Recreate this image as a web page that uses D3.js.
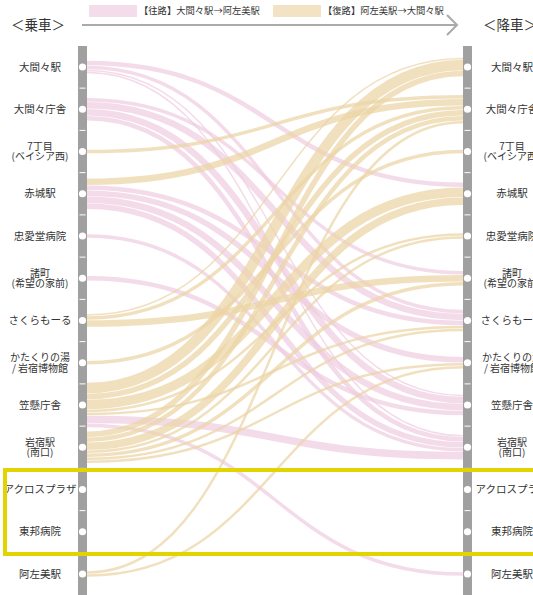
<!DOCTYPE html>
<html>
<head>
<meta charset="utf-8">
<script src="https://cdn.jsdelivr.net/npm/d3@7"></script>
<style>
  body { margin: 0; background: #fff; }
  svg { display: block; font-family: "Noto Sans CJK JP", "Noto Sans", sans-serif; }
</style>
</head>
<body>
<svg id="chart" width="533" height="595"></svg>
<script>
// stations top to bottom
const stations = [
  "大間々駅", "大間々庁舎", "7丁目\n(ベイシア西)", "赤城駅", "忠愛堂病院",
  "諸町\n(希望の家前)", "さくらもーる", "かたくりの湯\n/ 岩宿博物館", "笠懸庁舎",
  "岩宿駅\n(南口)", "アクロスプラザ", "東邦病院", "阿左美駅"
];

// [boarding station, alighting station, riders]
const outboundLinks = [
  [0, 3, 5], [0, 6, 4], [0, 8, 2], [0, 9, 2],
  [1, 5, 4], [1, 6, 7], [1, 8, 7], [1, 9, 5],
  [3, 6, 5], [3, 7, 6], [3, 8, 7], [3, 9, 6],
  [4, 9, 4],
  [5, 8, 5],
  [8, 9, 8], [8, 12, 4]
];

const returnLinks = [
  [2, 1, 4],
  [3, 1, 7],
  [6, 0, 2], [6, 1, 4], [6, 5, 7],
  [7, 2, 4],
  [8, 0, 11], [8, 1, 6], [8, 3, 10], [8, 4, 3], [8, 6, 3],
  [9, 0, 6], [9, 1, 5], [9, 3, 8], [9, 4, 3], [9, 5, 4], [9, 6, 3], [9, 7, 3],
  [12, 1, 3], [12, 7, 3]
];

const legendLabels = ["【往路】大間々駅→阿左美駅", "【復路】阿左美駅→大間々駅"];
const colors = { out: "#efcde0", ret: "#ebd4a5" };

const svg = d3.select("#chart");
const W = 533;
const leftBar = 78, rightBar = 463, barW = 9;

const y = d3.scaleLinear().domain([0, stations.length - 1]).range([67, 574]);
const bandW = d3.scaleLinear().domain([0, 1]).range([0, 1]);

const links = [
  ...outboundLinks.map(d => ({ s: d[0], t: d[1], v: d[2], type: "out" })),
  ...returnLinks.map(d => ({ s: d[0], t: d[1], v: d[2], type: "ret" }))
];

// stack bands around each station dot
stations.forEach((_, i) => {
  const outs = links.filter(l => l.s === i).sort((a, b) => a.t - b.t);
  let cur = y(i) - bandW(d3.sum(outs, l => l.v)) / 2;
  outs.forEach(l => { l.y0 = cur + bandW(l.v) / 2; cur += bandW(l.v); });
  const ins = links.filter(l => l.t === i).sort((a, b) => a.s - b.s);
  cur = y(i) - bandW(d3.sum(ins, l => l.v)) / 2;
  ins.forEach(l => { l.y1 = cur + bandW(l.v) / 2; cur += bandW(l.v); });
});

const link = d3.linkHorizontal();

svg.append("g")
  .selectAll("path")
  .data(links)
  .join("path")
  .attr("d", l => link({ source: [leftBar + barW, l.y0], target: [rightBar, l.y1] }))
  .attr("fill", "none")
  .attr("stroke", l => colors[l.type])
  .attr("stroke-opacity", 0.72)
  .attr("stroke-width", l => Math.max(bandW(l.v) - 0.5, 0.8));

// station bars
[leftBar, rightBar].forEach(bx => {
  const g = svg.append("g");
  g.append("rect")
    .attr("x", bx).attr("y", 46)
    .attr("width", barW).attr("height", 595 - 46)
    .attr("fill", "#a0a0a0");
  g.selectAll("line")
    .data(d3.range(stations.length - 1))
    .join("line")
    .attr("x1", bx + 1.5).attr("x2", bx + barW - 1.5)
    .attr("y1", i => y(i + 0.5)).attr("y2", i => y(i + 0.5))
    .attr("stroke", "#fff").attr("stroke-width", 1);
  g.selectAll("circle")
    .data(stations)
    .join("circle")
    .attr("cx", bx + barW / 2)
    .attr("cy", (d, i) => y(i))
    .attr("r", 3.6)
    .attr("fill", "#fff");
});

// station labels
[40, 512].forEach(cx => {
  svg.append("g")
    .selectAll("text")
    .data(stations)
    .join("text")
    .attr("text-anchor", "middle")
    .attr("fill", "#333")
    .each(function(d, i) {
      const lines = d.split("\n");
      const t = d3.select(this).attr("font-size", lines.length > 1 ? 10 : 10.5);
      lines.forEach((s, k) => {
        t.append("tspan")
          .attr("x", cx)
          .attr("y", y(i) + (k - (lines.length - 1) / 2) * 10.5)
          .attr("dy", "0.35em")
          .text(s);
      });
    });
});

// header
svg.append("text").attr("x", 38).attr("y", 25).attr("dy", "0.35em")
  .attr("text-anchor", "middle").attr("font-size", 13.5).attr("fill", "#333")
  .text("＜乗車＞");
svg.append("text").attr("x", 510).attr("y", 25).attr("dy", "0.35em")
  .attr("text-anchor", "middle").attr("font-size", 13.5).attr("fill", "#333")
  .text("＜降車＞");

svg.append("line")
  .attr("x1", 82).attr("x2", 456).attr("y1", 25).attr("y2", 25)
  .attr("stroke", "#aaa").attr("stroke-width", 2);
svg.append("path")
  .attr("d", "M447,15 L457,25 L447,35")
  .attr("fill", "none").attr("stroke", "#aaa").attr("stroke-width", 2);

const legend = svg.append("g")
  .selectAll("g")
  .data(legendLabels)
  .join("g")
  .attr("transform", (d, i) => `translate(${[89, 273][i]},5)`);
legend.append("rect")
  .attr("width", 48).attr("height", 12)
  .attr("fill", (d, i) => i === 0 ? "#f5dcea" : "#f3e3c4");
legend.append("text")
  .attr("x", 50).attr("y", 6).attr("dy", "0.35em")
  .attr("font-size", 9.3).attr("fill", "#333")
  .text(d => d);

// highlight box
svg.append("rect")
  .attr("x", 5).attr("y", 470)
  .attr("width", W + 20).attr("height", 84)
  .attr("fill", "none")
  .attr("stroke", "#e2d400")
  .attr("stroke-width", 4);
</script>
</body>
</html>
